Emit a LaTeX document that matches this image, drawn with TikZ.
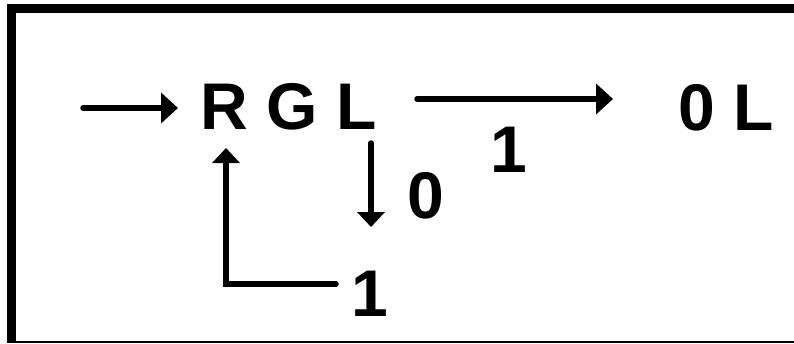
\documentclass[tikz,border=0pt]{standalone}
\usepackage{fontspec}
\setmainfont{Liberation Sans}
\usetikzlibrary{arrows.meta}
\begin{document}
\begin{tikzpicture}[x=1pt,y=-1pt,
  lbl/.style={inner sep=0pt, anchor=base, font=\fontsize{66}{66}\selectfont\bfseries},
  conn/.style={line width=5.5pt, line cap=round},
  arr/.style={conn, -{Triangle[length=17pt,width=30pt]}},
  varr/.style={conn, -{Triangle[length=15pt,width=27pt]}}]
\useasboundingbox (0,0) rectangle (794,343);

% frame: heavy top and left bars, thin bottom rule
\fill (7,4) rectangle (794,12.7);
\fill (7,4) rectangle (15.5,343);
\fill (7,340.5) rectangle (794,343);

% states and labels
\node[lbl] (rgl) at (288.5,129) {R G L};
\node[lbl] (zl) at (726.5,130) {0 L};
\node[lbl] (one) at (508.5,172) {1};
\node[lbl] (zero) at (425.5,218) {0};
\node[lbl] (oneb) at (369.5,316) {1};

% connector end points
\coordinate (start) at (83,108);
\coordinate (rglin) at (178,108);
\coordinate (rglout) at (417,99);
\coordinate (zlin) at (613,99);
\coordinate (rgldown) at (371,143);
\coordinate (downend) at (371,227);
\coordinate (loopstart) at (336,284);
\coordinate (loopcorner) at (226,284);
\coordinate (loopend) at (226,148);

% transitions
\draw[arr] (start) -- (rglin);
\draw[arr] (rglout) -- (zlin);
\draw[varr] (rgldown) -- (downend);
\draw[varr] (loopstart) -- (loopcorner) -- (loopend);
\end{tikzpicture}
\end{document}
